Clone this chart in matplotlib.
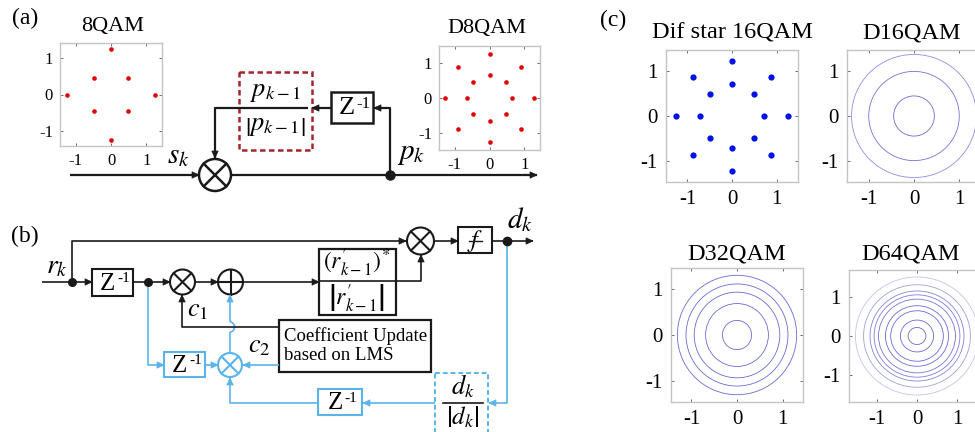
import matplotlib
matplotlib.use("Agg")
import matplotlib.pyplot as plt
from matplotlib.patches import Circle, Rectangle, Polygon, Arc

plt.rcParams['font.family'] = ['Liberation Serif', 'DejaVu Serif']
plt.rcParams['mathtext.fontset'] = 'stix'
plt.rcParams['axes.unicode_minus'] = False

# ---- constellation data ----
qam8_i = [0.0, 0.0, -1.26, 1.26, -0.47, 0.47, -0.47, 0.47]
qam8_q = [1.25, -1.25, 0.0, 0.0, 0.45, 0.45, -0.45, -0.45]

d8qam_i = [0.0, 0.0, -1.27, 1.27, -0.9, 0.9, -0.9, 0.9,
           0.0, 0.0, -0.66, 0.66, -0.47, 0.47, -0.47, 0.47]
d8qam_q = [1.27, -1.27, 0.0, 0.0, 0.9, 0.9, -0.9, -0.9,
           0.66, -0.66, 0.0, 0.0, 0.47, 0.47, -0.47, -0.47]

star16_i = [0.0, 0.0, -1.26, 1.26, -0.88, 0.88, -0.88, 0.88,
            0.0, 0.0, -0.71, 0.71, -0.5, 0.5, -0.5, 0.5]
star16_q = [1.24, -1.24, 0.0, 0.0, 0.88, 0.88, -0.88, -0.88,
            0.71, -0.71, 0.0, 0.0, 0.5, 0.5, -0.5, -0.5]

d16_radii = [0.45, 1.0, 1.38]
d32_radii = [0.32, 0.69, 0.94, 1.12, 1.31]
d64_radii = [0.22, 0.41, 0.65, 0.78, 0.95, 1.06, 1.16, 1.32, 1.52]

tick_vals = [-1, 0, 1]
tick_text = ['-1', '0', '1']

W, H = 975, 432
fig = plt.figure(figsize=(W / 100, H / 100), dpi=100)
ax = fig.add_axes([0, 0, 1, 1])
ax.set_xlim(0, W)
ax.set_ylim(H, 0)
ax.axis('off')

BLK = '#1a1a1a'
BLU = '#5ab4ea'
RED = '#a3262c'


def txt(x, y, s, size, color='k', ha='center', va='center', **kw):
    ax.text(x, y, s, fontsize=size, color=color, ha=ha, va=va, **kw)


def head(x, y, d, color, L=7, Wd=3.2):
    dx, dy = {'r': (1, 0), 'l': (-1, 0), 'u': (0, -1), 'd': (0, 1)}[d]
    bx, by = x - dx * L, y - dy * L
    px, py = -dy, dx
    ax.add_patch(Polygon([(x, y), (bx + px * Wd, by + py * Wd),
                          (bx - px * Wd, by - py * Wd)],
                         closed=True, fc=color, ec=color, lw=0.5, zorder=4))


def path(pts, color, lw, arrow=None):
    xs = [p[0] for p in pts]
    ys = [p[1] for p in pts]
    ax.plot(xs, ys, color=color, lw=lw, solid_capstyle='butt', zorder=3)
    if arrow:
        head(pts[-1][0], pts[-1][1], arrow, color)


def mult(cx, cy, r, color, lw):
    ax.add_patch(Circle((cx, cy), r, fill=False, ec=color, lw=lw, zorder=3))
    d = r * 0.707
    ax.plot([cx - d, cx + d], [cy - d, cy + d], color=color, lw=lw, zorder=3)
    ax.plot([cx - d, cx + d], [cy + d, cy - d], color=color, lw=lw, zorder=3)


def adder(cx, cy, r, color, lw):
    ax.add_patch(Circle((cx, cy), r, fill=False, ec=color, lw=lw, zorder=3))
    ax.plot([cx - r, cx + r], [cy, cy], color=color, lw=lw, zorder=3)
    ax.plot([cx, cx], [cy - r, cy + r], color=color, lw=lw, zorder=3)


def box(x0, y0, x1, y1, color, lw, ls='-'):
    ax.add_patch(Rectangle((x0, y0), x1 - x0, y1 - y0, fill=False,
                           ec=color, lw=lw, ls=ls, zorder=3))


def zblock(x0, y0, x1, y1, color, lw, zs=18, ss=11):
    box(x0, y0, x1, y1, color, lw)
    cx, cy = (x0 + x1) / 2, (y0 + y1) / 2
    txt(cx - 5, cy + 1, 'Z', zs)
    txt(cx + 11, cy - 4, '-1', ss)


def dot(x, y, color=BLK, ms=6.5):
    ax.plot([x], [y], 'o', color=color, ms=ms, zorder=5)


# ---------------- (a) ----------------
lwa = 1.6
txt(25, 18, '(a)', 17)
path([(70, 175), (199, 175)], BLK, lwa, 'r')
mult(215, 175, 16, BLK, 1.8)
path([(231, 175), (537, 175)], BLK, lwa, 'r')
dot(390, 175)
path([(390, 175), (390, 108), (374, 108)], BLK, lwa, 'l')
zblock(331, 92, 373, 123, BLK, 1.8, zs=19, ss=12)
path([(331, 108), (312, 108)], BLK, lwa, 'l')
box(239, 72, 312, 150, RED, 1.8, ls=(0, (2.2, 1.4)))
path([(308, 108), (215, 108), (215, 158)], BLK, lwa, 'd')
txt(275, 93, r'$p_{k-1}$', 19)
txt(275, 127, r'$\left|p_{k-1}\right|$', 19)
txt(178, 156, r'$s_k$', 21)
txt(411, 154, r'$p_k$', 21)

# ---------------- (b) ----------------
lwb = 1.2
txt(25, 236, '(b)', 17)
txt(57, 267, r'$r_k$', 20)
path([(42, 282), (92, 282)], BLK, lwb, 'r')
dot(72, 282, ms=5.5)
path([(72, 282), (72, 241), (406, 241)], BLK, lwb, 'r')
zblock(92, 269, 133, 296, BLK, 1.5)
path([(133, 282), (170, 282)], BLK, lwb, 'r')
dot(148, 282, ms=5.5)
mult(182.5, 282, 12.5, BLK, 1.5)
path([(195, 282), (218, 282)], BLK, lwb, 'r')
adder(230.5, 282, 12.5, BLK, 1.5)
path([(243, 282), (319, 282)], BLK, lwb, 'r')
box(319, 249, 396, 315, BLK, 1.6)
path([(319, 281), (421, 281), (421, 255)], BLK, lwb, 'u')
txt(357, 263, r"$(r^{\prime}_{k-1})^{*}$", 17)
txt(357, 299, r"$\left|r^{\prime}_{k-1}\right|$", 17)
mult(420.5, 241, 13.5, BLK, 1.5)
path([(434, 241), (458, 241)], BLK, lwb, 'r')
box(458, 227, 492, 253, BLK, 1.5)
txt(475, 241, r'$f$', 18)
ax.plot([469, 482], [241, 241], color=BLK, lw=1.0, zorder=4)
path([(492, 241), (533, 241)], BLK, lwb, 'r')
txt(520, 220, r'$d_k$', 21)

# feedback (blue)
path([(507, 241), (507, 403), (489, 403)], BLU, lwb, 'l')
dot(507, 241, ms=6)
box(435, 373, 488, 445, BLU, 1.4, ls=(0, (2.5, 1.5)))
ax.plot([443, 483], [403, 403], color=BLK, lw=1.2, zorder=3)
txt(463, 386, r'$d_k$', 19)
txt(463, 417, r'$\left|d_k\right|$', 18)
path([(435, 403), (363, 403)], BLU, lwb, 'l')
zblock(318, 389, 362, 415, BLU, 1.5)
path([(318, 403), (230, 403), (230, 378)], BLU, lwb, 'u')
mult(230, 365, 12, BLU, 1.5)
# vertical to the adder, hopping over the c1 line
path([(230, 353), (230, 332)], BLU, lwb)
ax.add_patch(Arc((230, 327), 9, 10, theta1=-90, theta2=90, color=BLU,
                 lw=lwb, zorder=3))
path([(230, 322), (230, 295)], BLU, lwb, 'u')

path([(279, 327), (182, 327), (182, 295)], BLK, lwb, 'u')
txt(198, 311, r'$c_1$', 19)
box(279, 320, 431, 372, BLK, 1.6)
txt(284, 336, 'Coefficient Update', 13.5, ha='left')
txt(284, 355, 'based on LMS', 13.5, ha='left')
path([(279, 365), (243, 365)], BLU, lwb, 'l')
txt(259, 347, r'$c_2$', 19)
path([(148, 282), (148, 365), (164, 365)], BLU, lwb, 'r')
zblock(164, 352, 205, 377, BLU, 1.5)
path([(205, 365), (218, 365)], BLU, lwb, 'r')

txt(613, 20, '(c)', 17)


# ---------------- constellations ----------------
def inset(x0, y0, x1, y1, xl, yl, fs, pad):
    a = fig.add_axes([x0 / W, 1 - y1 / H, (x1 - x0) / W, (y1 - y0) / H])
    a.set_xlim(-xl, xl)
    a.set_ylim(-yl, yl)
    a.set_xticks(tick_vals)
    a.set_yticks(tick_vals)
    a.set_xticklabels(tick_text)
    a.set_yticklabels(tick_text)
    a.tick_params(direction='in', length=2, width=0.6, color='#555555',
                  labelsize=fs, pad=pad, top=True, right=True)
    for s in a.spines.values():
        s.set_color('#c4c4c4')
        s.set_linewidth(1.0)
    a.set_facecolor('white')
    return a


a1 = inset(60, 43, 162, 146, 1.45, 1.43, 12, 5)
a1.plot(qam8_i, qam8_q, 'o', color='#e00000', ms=3.3, mec='none')
txt(113, 27, '8QAM', 16)

a2 = inset(439, 46, 540, 150, 1.45, 1.49, 12, 5)
a2.plot(d8qam_i, d8qam_q, 'o', color='#e00000', ms=3.3, mec='none')
txt(487, 29, 'D8QAM', 16)

a3 = inset(666, 50, 798, 182, 1.48, 1.48, 15, 6)
a3.plot(star16_i, star16_q, 'o', color='#0010e8', ms=4.5, mec='none')
txt(732, 33, 'Dif star 16QAM', 17.5)

ring_col = '#5050cc'


def rings(a, radii, alphas):
    for r, al in zip(radii, alphas):
        a.add_patch(Circle((0, 0), r, fill=False, ec=ring_col, lw=0.6,
                           alpha=al))


a4 = inset(847, 50, 981, 182, 1.48, 1.48, 15, 6)
rings(a4, d16_radii, [0.85, 0.8, 0.65])
txt(912, 33, 'D16QAM', 17.5)

a5 = inset(671, 268, 803, 402, 1.45, 1.47, 15, 6)
rings(a5, d32_radii, [0.85] * 5)
txt(737, 254, 'D32QAM', 17.5)

a6 = inset(849, 270, 985, 402, 1.68, 1.7, 15, 6)
rings(a6, d64_radii, [0.85, 0.85, 0.85, 0.85, 0.8, 0.75, 0.7, 0.55, 0.35])
txt(911, 254, 'D64QAM', 17.5)

fig.savefig('out.png', dpi=100)
